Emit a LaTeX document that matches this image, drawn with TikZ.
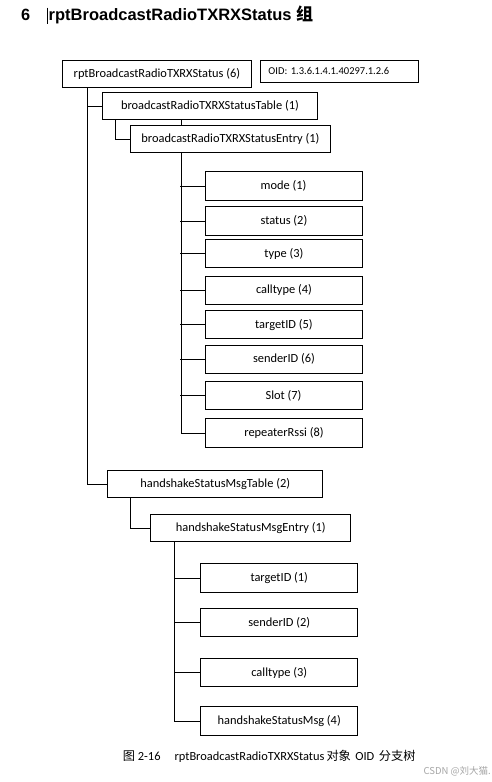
\documentclass[tikz,border=0pt]{standalone}
\usepackage{fontspec}
\setmainfont{Carlito}
\newfontfamily\titlefont{Liberation Sans}
\newfontfamily\cjk{Noto Sans CJK SC}
\begin{document}
\begin{tikzpicture}[x=1pt,y=-1pt]
\tikzset{
  box/.style={draw, line width=0.9pt, fill=white, inner sep=0pt, anchor=north west,
    font=\fontsize{12.4}{14}\selectfont},
  conn/.style={line width=0.9pt},
}
\newcommand\bx[6]{\node[box,minimum width={#4pt-#2pt},minimum height={#5pt-#3pt}] (#1) at (#2,#3) {#6};}
\newcommand\cjkc[1]{{\cjk\fontsize{12.2}{14}\selectfont #1}}
\useasboundingbox[fill=white] (0,0) rectangle (491,782);

% title
\node[anchor=base west, inner sep=0pt, font=\titlefont\bfseries\fontsize{16.3}{18}\selectfont] (num) at (21,20) {6};
\draw[line width=0.6pt] (47.5,7.5) -- (47.5,24);
\node[anchor=base west, inner sep=0pt, font=\titlefont\bfseries\fontsize{16.5}{18}\selectfont] (title) at (48.5,20) {rptBroadcastRadioTXRXStatus {\cjk\bfseries\fontsize{17}{18}\selectfont 组}};

\coordinate (r0) at (87,87);
\coordinate (t1) at (115,119);
\coordinate (e1) at (181,119);
\coordinate (h1) at (130.7,497.3);
\coordinate (e2) at (174.7,541);

% boxes
\bx{root}{62}{60}{251}{87}{rptBroadcastRadioTXRXStatus (6)}
\node[box, minimum height=22pt, text width=142pt, inner xsep=8pt, align=left,
  font=\fontsize{10.5}{12}\selectfont] (oid) at (260,60) {OID: 1.3.6.1.4.1.40297.1.2.6};
\bx{tab}{102}{92}{317}{119}{broadcastRadioTXRXStatusTable (1)}
\bx{ent}{130}{125}{330}{152}{broadcastRadioTXRXStatusEntry (1)}
\bx{a1}{204.5}{170.7}{361.7}{200.3}{mode (1)}
\bx{a2}{205.3}{205.7}{361.7}{235.3}{status (2)}
\bx{a3}{205.3}{239.3}{361.7}{267.3}{type (3)}
\bx{a4}{205.3}{275.7}{361.7}{304.3}{calltype (4)}
\bx{a5}{205.3}{310.3}{361.7}{338.3}{targetID (5)}
\bx{a6}{205.3}{344.7}{361.7}{373}{senderID (6)}
\bx{a7}{204.5}{381.3}{361.7}{409}{Slot (7)}
\bx{a8}{205.3}{418.3}{361.7}{447}{repeaterRssi (8)}
\bx{htab}{107.3}{470.3}{322.3}{497.3}{handshakeStatusMsgTable (2)}
\bx{hent}{150.3}{514.3}{350.3}{541}{handshakeStatusMsgEntry (1)}
\bx{b1}{200.3}{563.3}{357.3}{592.3}{targetID (1)}
\bx{b2}{200.3}{608.3}{357.3}{636.3}{senderID (2)}
\bx{b3}{200.3}{658.3}{357.3}{686.3}{calltype (3)}
\bx{b4}{200.3}{706.3}{357.3}{735.3}{handshakeStatusMsg (4)}

% connectors
\draw[conn] (r0) |- (tab.west);
\draw[conn] (r0) |- (htab.west);
\draw[conn] (t1) |- (ent.west);
\draw[conn] (e1) -- (ent.north -| e1);
\draw[conn] (ent.south -| e1) |- (a8.west);
\foreach \n in {a1,a2,a3,a4,a5,a6,a7}{\draw[conn] ([xshift=-1pt]e1 |- \n.west) -- (\n.west);}
\draw[conn] (h1) |- (hent.west);
\draw[conn] (e2) |- (b4.west);
\foreach \n in {b1,b2,b3}{\draw[conn] (e2 |- \n.west) -- (\n.west);}

% caption
\node[anchor=west, inner sep=0pt, font=\fontsize{12.4}{14}\selectfont] (cap) at (122.7,756.7)
  {\cjkc{图} 2-16\hspace{14pt}rptBroadcastRadioTXRXStatus\,\cjkc{对象}\hspace{4.5pt}OID\hspace{4.5pt}\cjkc{分支树}};
\node[anchor=east, inner sep=0pt, text=black!35, font=\cjk\fontsize{9.5}{11}\selectfont] (wm) at (491,771.7) {CSDN @刘大猫.};
\end{tikzpicture}
\end{document}
